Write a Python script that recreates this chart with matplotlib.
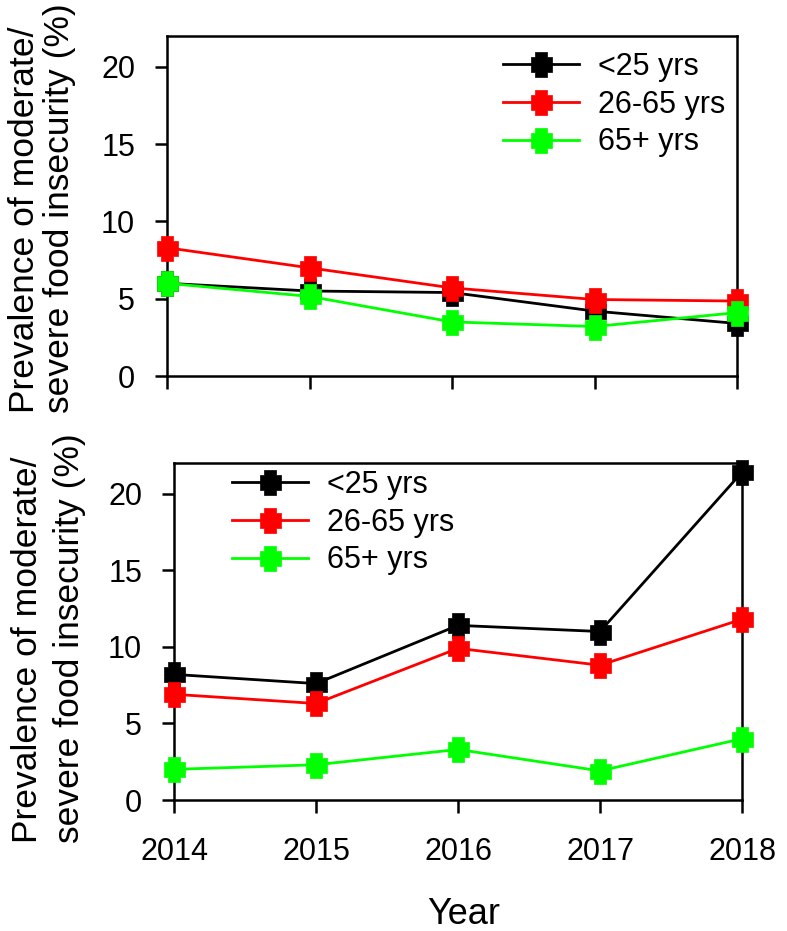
import matplotlib
matplotlib.use("Agg")
import matplotlib.pyplot as plt
from matplotlib.path import Path

plt.rcParams['font.family'] = ['Liberation Sans', 'DejaVu Sans']

years = [2014, 2015, 2016, 2017, 2018]
labels = ["<25 yrs", "26-65 yrs", "65+ yrs"]
colors = ["#000000", "#ff0000", "#00ff00"]

# top panel
top_u25 = [6.0, 5.5, 5.4, 4.2, 3.4]
top_26_65 = [8.3, 7.0, 5.7, 4.95, 4.85]
top_65p = [6.0, 5.15, 3.5, 3.2, 4.1]

# bottom panel
bot_u25 = [8.2, 7.6, 11.4, 11.0, 21.4]
bot_26_65 = [6.9, 6.3, 9.9, 8.8, 11.8]
bot_65p = [2.0, 2.3, 3.3, 1.9, 4.0]

ylabel1 = "Prevalence of moderate/"
ylabel2 = "severe food insecurity (%)"

# thick plus marker
a, b, w, h = 0.24, 0.30, 0.42, 0.5
verts = [(-a, h), (a, h), (a, b), (w, b), (w, -b), (a, -b), (a, -h), (-a, -h),
         (-a, -b), (-w, -b), (-w, b), (-a, b), (-a, h)]
plus = Path(verts, closed=True)

W, H = 787, 931
fig = plt.figure(figsize=(W / 100, H / 100), dpi=100)


def px(x0, y0, x1, y1):
    return [x0 / W, 1 - y1 / H, (x1 - x0) / W, (y1 - y0) / H]


ax1 = fig.add_axes(px(167, 36, 737, 376))
ax2 = fig.add_axes(px(174, 463, 742, 800))

for ax, series in [(ax1, [top_u25, top_26_65, top_65p]),
                   (ax2, [bot_u25, bot_26_65, bot_65p])]:
    for vals, lab, c in zip(series, labels, colors):
        ax.plot(years, vals, color=c, lw=2, marker=plus, ms=18,
                mfc=c, mec=c, mew=0.5, label=lab, clip_on=False, zorder=3)
    ax.set_xlim(2014, 2018)
    ax.set_ylim(0, 22)
    ax.set_xticks(years)
    ax.set_yticks([0, 5, 10, 15, 20])
    for s in ax.spines.values():
        s.set_linewidth(1.8)
    ax.tick_params(direction='out', length=9, width=1.8, labelsize=22)
    ax.tick_params(axis='y', pad=14)
    ax.tick_params(axis='x', pad=18)

ax1.tick_params(axis='x', labelbottom=False)

ax1.legend(loc='upper left', bbox_to_anchor=(503 / W, 1 - 52 / H),
           bbox_transform=fig.transFigure, frameon=False, fontsize=22,
           handlelength=2.5, handletextpad=0.6, labelspacing=0.25,
           borderpad=0, borderaxespad=0)
ax2.legend(loc='upper left', bbox_to_anchor=(232 / W, 1 - 470 / H),
           bbox_transform=fig.transFigure, frameon=False, fontsize=22,
           handlelength=2.5, handletextpad=0.6, labelspacing=0.25,
           borderpad=0, borderaxespad=0)

for (x1, x2, y0) in [(34, 69, 413), (37, 79, 843)]:
    fig.text(x1 / W, 1 - y0 / H, ylabel1, rotation=90, rotation_mode='anchor',
             ha='left', va='baseline', fontsize=25.5)
    fig.text(x2 / W, 1 - y0 / H, ylabel2, rotation=90, rotation_mode='anchor',
             ha='left', va='baseline', fontsize=25.5)

fig.text(464 / W, 1 - 915 / H, "Year", ha='center', va='center', fontsize=26)

fig.savefig("out.png", dpi=100)
